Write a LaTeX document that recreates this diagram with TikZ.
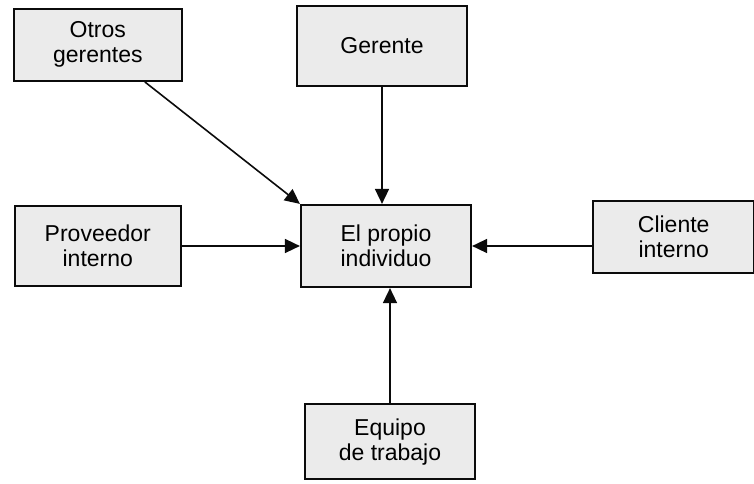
\documentclass[tikz,border=0pt]{standalone}
\usepackage{fontspec}
\setmainfont{Liberation Sans}
\usepackage{xcolor}
\usetikzlibrary{arrows.meta, positioning}
\definecolor{ink}{HTML}{0B0B0B}
\definecolor{cfill}{HTML}{EBEBEB}

\begin{document}
\begin{tikzpicture}[x=1pt, y=1pt,
      box/.style={draw=ink, fill=cfill, line width=2.2pt, align=center,
                  inner sep=0pt, minimum width=170pt, minimum height=80pt,
                  font=\fontsize{23}{25}\selectfont},
      arr/.style={-{Triangle[length=15pt, width=14pt]}, draw=ink, line width=1.6pt}]
    \useasboundingbox (0,0) rectangle (754,483);
    \node[box, minimum height=82pt] (indiv) at (386,237) {El propio\\individuo};
    \node[box, above=117pt of indiv, xshift=-4pt] (ger) {Gerente};
    \node[box, below=115pt of indiv, xshift=4pt, minimum height=75pt] (equipo) {Equipo\\de trabajo};
    \node[box, left=118pt of indiv, minimum width=166pt] (prov) {Proveedor\\interno};
    \node[box, right=120pt of indiv, yshift=9pt, minimum width=161pt, minimum height=72pt] (cli) {Cliente\\interno};
    \node[box, above=123pt of prov, minimum width=168pt, minimum height=72pt] (otros) {Otros\\gerentes};

    \draw[arr] (otros) -- (indiv.north west);
    \draw[arr] (ger.south) -- (ger.south |- indiv.north);
    \draw[arr] (prov.east) -- (prov.east -| indiv.west);
    \draw[arr] (indiv.east -| cli.west) -- (indiv.east);
    \draw[arr] (equipo.north) -- (equipo.north |- indiv.south);
  \end{tikzpicture}
\end{document}
